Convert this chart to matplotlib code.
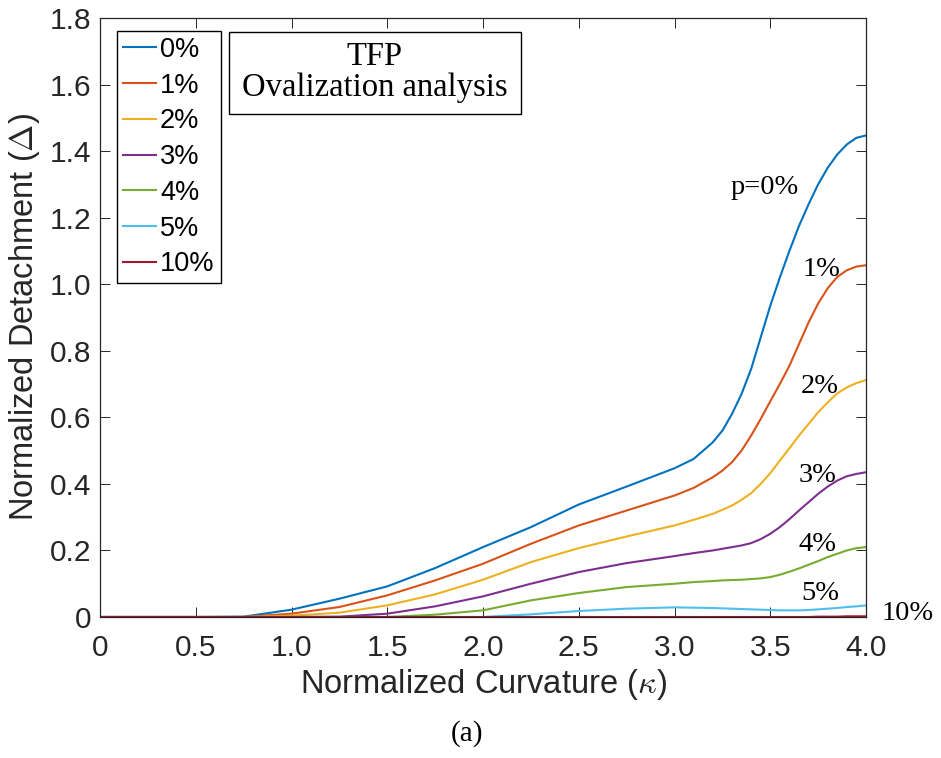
import matplotlib
matplotlib.use("Agg")
import matplotlib.pyplot as plt
from matplotlib.patches import Rectangle

# ---------------- data ----------------
kappa = [0, 0.25, 0.5, 0.75, 1.0, 1.25, 1.5, 1.75, 2.0, 2.25, 2.5, 2.75, 3.0, 3.1,
         3.2, 3.25, 3.3, 3.35, 3.4, 3.45, 3.5, 3.55, 3.6, 3.65, 3.7, 3.75, 3.8,
         3.85, 3.9, 3.95, 4.0]

p0 = [0, 0, 0, 0.001, 0.022, 0.055, 0.092, 0.147, 0.21, 0.27, 0.338, 0.392, 0.447,
      0.475, 0.525, 0.56, 0.61, 0.67, 0.745, 0.84, 0.935, 1.02, 1.10, 1.175, 1.24,
      1.30, 1.35, 1.39, 1.42, 1.44, 1.447]
p1 = [0, 0, 0, 0, 0.01, 0.03, 0.065, 0.11, 0.16, 0.22, 0.275, 0.32, 0.365, 0.388,
      0.42, 0.44, 0.465, 0.50, 0.545, 0.595, 0.648, 0.70, 0.755, 0.82, 0.885, 0.942,
      0.988, 1.022, 1.042, 1.053, 1.057]
p2 = [0, 0, 0, 0, 0.004, 0.013, 0.035, 0.068, 0.112, 0.165, 0.207, 0.242, 0.275,
      0.292, 0.31, 0.322, 0.335, 0.352, 0.372, 0.40, 0.432, 0.47, 0.507, 0.545,
      0.58, 0.615, 0.645, 0.672, 0.69, 0.703, 0.712]
p3 = [0, 0, 0, 0, 0, 0.001, 0.01, 0.032, 0.062, 0.10, 0.135, 0.162, 0.183, 0.192,
      0.20, 0.205, 0.21, 0.215, 0.222, 0.234, 0.25, 0.27, 0.294, 0.32, 0.345,
      0.37, 0.392, 0.41, 0.423, 0.43, 0.435]
p4 = [0, 0, 0, 0, 0, 0, 0, 0.007, 0.02, 0.05, 0.072, 0.09, 0.10, 0.105, 0.108,
      0.11, 0.111, 0.112, 0.114, 0.116, 0.12, 0.127, 0.136, 0.146, 0.157, 0.168,
      0.18, 0.19, 0.20, 0.207, 0.21]
p5 = [0, 0, 0, 0, 0, 0, 0, 0, 0, 0.008, 0.018, 0.025, 0.029, 0.028, 0.027, 0.026,
      0.025, 0.024, 0.023, 0.022, 0.021, 0.02, 0.02, 0.02, 0.021, 0.023, 0.025,
      0.027, 0.03, 0.032, 0.035]
p10 = [0, 0, 0, 0, 0, 0, 0, 0, 0, 0, 0, 0, 0, 0, 0, 0, 0, 0, 0, 0, 0, 0, 0, 0,
       0, 0.001, 0.001, 0.001, 0.002, 0.002, 0.002]

series = [p0, p1, p2, p3, p4, p5, p10]
legend_labels = ["0%", "1%", "2%", "3%", "4%", "5%", "10%"]
curve_labels = ["p=0%", "1%", "2%", "3%", "4%", "5%", "10%"]

xticks = [0, 0.5, 1.0, 1.5, 2.0, 2.5, 3.0, 3.5, 4.0]
xtick_labels = ["0", "0.5", "1.0", "1.5", "2.0", "2.5", "3.0", "3.5", "4.0"]
yticks = [0, 0.2, 0.4, 0.6, 0.8, 1.0, 1.2, 1.4, 1.6, 1.8]
ytick_labels = ["0", "0.2", "0.4", "0.6", "0.8", "1.0", "1.2", "1.4", "1.6", "1.8"]

# ---------------- style ----------------
colors = ["#0072BD", "#D95319", "#EDB120", "#7E2F8E", "#77AC30", "#4DBEEE", "#A2142F"]
label_pos = [(3.473, 1.270), (3.769, 1.026), (3.760, 0.674), (3.747, 0.406),
             (3.747, 0.199), (3.760, 0.051), (4.219, -0.009)]

plt.rcParams["font.family"] = ["Liberation Sans", "DejaVu Sans"]
plt.rcParams["mathtext.fontset"] = "cm"
axc = "#262626"

fig = plt.figure(figsize=(9.41, 7.58), dpi=100)
ax = fig.add_axes([100 / 941, (758 - 617) / 758, 766 / 941, 599 / 758])

for ys, c, lab in zip(series, colors, legend_labels):
    ax.plot(kappa, ys, color=c, lw=1.5, label=lab, solid_joinstyle="round")

ax.set_xlim(0, 4.0)
ax.set_ylim(0, 1.8)
ax.set_xticks(xticks)
ax.set_xticklabels(xtick_labels)
ax.set_yticks(yticks)
ax.set_yticklabels(ytick_labels)
ax.tick_params(direction="in", length=7, width=0.7, colors=axc, labelsize=21.5,
               top=True, right=True)
ax.tick_params(axis="x", pad=12)
ax.tick_params(axis="y", pad=6)
for s in ax.spines.values():
    s.set_color(axc)
    s.set_linewidth(0.9)

ax.set_xlabel(r"Normalized Curvature ($\kappa$)", fontsize=23.5, color=axc, labelpad=4)
ax.set_ylabel(r"Normalized Detachment ($\Delta$)", fontsize=23.5, color=axc, labelpad=6)

leg = ax.legend(loc="upper left", bbox_to_anchor=(17 / 766, 1 - 13 / 599),
                borderaxespad=0, fontsize=19.5, frameon=True, fancybox=False,
                framealpha=1, edgecolor="black", handlelength=1.22,
                handletextpad=0.15, labelspacing=0.36, borderpad=0.22)
leg.get_frame().set_linewidth(1.0)
for t in leg.get_texts():
    t.set_color("black")

# annotation box
ax.add_patch(Rectangle((129 / 766, (617 - 114) / 599), 291.5 / 766, 82 / 599,
                       transform=ax.transAxes, fill=False, ec="black", lw=1.0,
                       zorder=5))
serif = ["Liberation Serif", "DejaVu Serif"]
ax.text(274.5 / 766, (617 - 65) / 599, "TFP", transform=ax.transAxes, ha="center",
        va="baseline", fontsize=23.5, family=serif, color="black")
ax.text(274.5 / 766, (617 - 96) / 599, "Ovalization analysis", transform=ax.transAxes,
        ha="center", va="baseline", fontsize=23.5, family=serif, color="black")

# curve labels
for (x, y), t in zip(label_pos, curve_labels):
    ax.text(x, y, t, ha="center", va="baseline", fontsize=20.5, family=serif,
            color="black", clip_on=False)

fig.text(467 / 941, (758 - 734) / 758, "(a)", ha="center", va="center",
         fontsize=21, family=serif, color="black")

fig.savefig("out.png", dpi=100)
